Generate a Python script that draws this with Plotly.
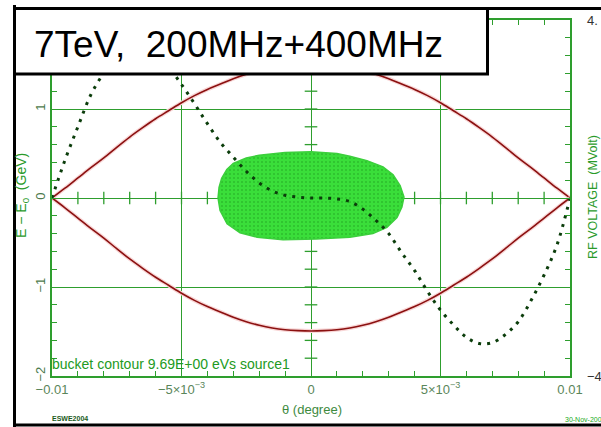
import plotly.graph_objects as go
import numpy as np

# ---------------- data ----------------
# bucket contour (separatrix), theta in degrees, dE in GeV
sep_theta = [-0.0100, -0.0095, -0.0090, -0.0085, -0.0080, -0.0075, -0.0070, -0.0065,
             -0.0060, -0.0055, -0.0050, -0.0045, -0.0040, -0.0035, -0.0030, -0.0025,
             -0.0020, -0.0015, -0.0010, -0.0005, 0.0000, 0.0005, 0.0010, 0.0015,
             0.0020, 0.0025, 0.0030, 0.0035, 0.0040, 0.0045, 0.0050, 0.0055,
             0.0060, 0.0065, 0.0070, 0.0075, 0.0080, 0.0085, 0.0090, 0.0095, 0.0100]
sep_lower = [0.0, -0.11, -0.225, -0.34, -0.45, -0.57, -0.685, -0.79,
             -0.89, -0.98, -1.07, -1.15, -1.22, -1.28, -1.34, -1.39,
             -1.43, -1.46, -1.48, -1.49, -1.494, -1.49, -1.48, -1.46,
             -1.43, -1.39, -1.34, -1.28, -1.22, -1.15, -1.07, -0.98,
             -0.89, -0.79, -0.685, -0.57, -0.45, -0.34, -0.225, -0.11, 0.0]
sep_upper = [0.0, 0.11, 0.225, 0.34, 0.45, 0.57, 0.685, 0.79,
             0.89, 0.98, 1.07, 1.15, 1.22, 1.28, 1.34, 1.39,
             1.43, 1.46, 1.48, 1.49, 1.494, 1.49, 1.48, 1.46,
             1.43, 1.39, 1.34, 1.28, 1.22, 1.15, 1.07, 0.98,
             0.89, 0.79, 0.685, 0.57, 0.45, 0.34, 0.225, 0.11, 0.0]

# RF voltage (MVolt) vs theta
rf_theta = [-0.0100, -0.0095, -0.0090, -0.0085, -0.0080, -0.0075, -0.0070, -0.0065,
            -0.0060, -0.0055, -0.0050, -0.0045, -0.0040, -0.0035, -0.0030, -0.0025,
            -0.0020, -0.0015, -0.0010, -0.0005, 0.0000, 0.0005, 0.0010, 0.0015,
            0.0020, 0.0025, 0.0030, 0.0035, 0.0040, 0.0045, 0.0050, 0.0055,
            0.0060, 0.0065, 0.0070, 0.0075, 0.0080, 0.0085, 0.0090, 0.0095, 0.0100]
rf_volt = [0.0, 0.85, 1.60, 2.32, 2.80, 3.10, 3.26, 3.29,
           3.15, 2.93, 2.55, 2.12, 1.67, 1.25, 0.92, 0.60,
           0.34, 0.16, 0.06, 0.02, 0.0, 0.0, -0.02, -0.08,
           -0.25, -0.50, -0.80, -1.23, -1.63, -2.10, -2.52, -2.85,
           -3.13, -3.27, -3.25, -3.07, -2.78, -2.30, -1.73, -1.05, 0.0]

# outline of the particle cloud (theta, dE)
cloud_theta = [-0.00359, -0.00355, -0.00345, -0.00325, -0.00300, -0.00250, -0.00200,
               -0.00100, 0.00000, 0.00100, 0.00150, 0.00216, 0.00278, 0.00317,
               0.00344, 0.00359, 0.00351, 0.00332, 0.00293, 0.00239, 0.00150,
               0.00020, -0.00108, -0.00208, -0.00274, -0.00324, -0.00351, -0.00359]
cloud_E = [0.00, 0.12, 0.22, 0.32, 0.39, 0.45, 0.48,
           0.51, 0.52, 0.50, 0.47, 0.42, 0.35, 0.26,
           0.14, 0.01, -0.10, -0.22, -0.33, -0.40, -0.44,
           -0.46, -0.47, -0.44, -0.39, -0.29, -0.14, 0.00]

x_tickvals = [-0.01, -0.005, 0, 0.005, 0.01]
x_ticktext = ["\u22120.01", "\u22125\u00d710<sup>\u22123</sup>", "0",
              "5\u00d710<sup>\u22123</sup>", "0.01"]
y_tickvals = [-2, -1, 0, 1]
y_ticktext = ["\u22122", "\u22121", "0", "1"]
y2_tickvals = [-4, 4]
y2_ticktext = ["\u22124", "4."]

# ---------------- styling ----------------
W, H = 601, 427
L, R, T, B = 52, 31, 20, 51
PW, PH = W - L - R, H - T - B
G = "#2e9e2e"
FONT = "Liberation Sans, Arial, sans-serif"


def px(x):
    return (x - L) / PW


def py(y):
    return (H - B - y) / PH


fig = go.Figure()

# crossing ticks on the zero lines
tx = np.round(np.arange(-0.009, 0.0095, 0.001), 4)
ty = np.round(np.arange(-1.8, 1.81, 0.2), 2)
fig.add_trace(go.Scatter(x=tx, y=np.zeros_like(tx), mode="markers",
                         marker=dict(symbol="line-ns", size=9, line=dict(color=G, width=1.3)),
                         hoverinfo="skip"))
fig.add_trace(go.Scatter(x=np.zeros_like(ty), y=ty, mode="markers",
                         marker=dict(symbol="line-ew", size=9, line=dict(color=G, width=1.3)),
                         hoverinfo="skip"))

# particle cloud
fig.add_trace(go.Scatter(x=cloud_theta, y=cloud_E, mode="lines", fill="toself",
                         line=dict(color="#3ccf3c", width=1.5),
                         fillcolor="#3ade3a",
                         fillpattern=dict(shape=".", bgcolor="#3ade3a", fgcolor="#1fa01f",
                                          size=4, solidity=0.22),
                         hoverinfo="skip"))

# bucket contour with light halo
for ys in (sep_upper, sep_lower):
    fig.add_trace(go.Scatter(x=sep_theta, y=ys, mode="lines",
                             line=dict(color="#f8d6d6", width=4, shape="spline"),
                             hoverinfo="skip"))
    fig.add_trace(go.Scatter(x=sep_theta, y=ys, mode="lines",
                             line=dict(color="#8b1010", width=1.6, shape="spline"),
                             hoverinfo="skip"))

# RF voltage (dotted)
fig.add_trace(go.Scatter(x=rf_theta, y=rf_volt, yaxis="y2", mode="lines",
                         line=dict(color="#0b3d0b", width=3, dash="3px,6px", shape="spline"),
                         hoverinfo="skip"))

axis_common = dict(showline=True, linecolor=G, linewidth=2, mirror="ticks",
                   showgrid=True, gridcolor=G, gridwidth=1.3, zeroline=False,
                   ticks="inside", ticklen=5, tickcolor=G, tickwidth=1.2,
                   automargin=False)

fig.update_layout(
    width=W, height=H,
    margin=dict(l=L, r=R, t=T, b=B),
    paper_bgcolor="white", plot_bgcolor="white",
    showlegend=False,
    xaxis=dict(range=[-0.01, 0.01], tickmode="array", tickvals=x_tickvals,
               ticktext=x_ticktext,
               tickfont=dict(family=FONT, size=13, color="#5a865a"),
               minor=dict(dtick=0.001, tick0=0, ticks="inside", ticklen=5,
                          tickcolor=G, tickwidth=1.2, showgrid=False),
               **axis_common),
    yaxis=dict(range=[-2, 2], tickmode="array", tickvals=y_tickvals,
               ticktext=y_ticktext, tickangle=-90,
               tickfont=dict(family=FONT, size=13, color="#4d7a4d"),
               minor=dict(dtick=0.2, tick0=0, ticks="inside", ticklen=5,
                          tickcolor=G, tickwidth=1.2, showgrid=False),
               **axis_common),
    yaxis2=dict(range=[-4, 4], overlaying="y", side="right", tickmode="array",
                tickvals=y2_tickvals, ticktext=y2_ticktext, showgrid=False,
                zeroline=False, showline=False, ticks="",
                ticklabelstandoff=16, automargin=False,
                tickfont=dict(family=FONT, size=13, color="#333333")),
)

# frame and title box
frame = dict(type="line", xref="paper", yref="paper", layer="above",
             line=dict(color="black", width=3))
fig.add_shape(x0=px(14.5), x1=px(14.5), y0=py(5), y1=py(430), **frame)
fig.add_shape(x0=px(13), x1=px(610), y0=py(8.5), y1=py(8.5), **frame)
fig.add_shape(x0=px(13), x1=px(610), y0=py(425), y1=py(425), **frame)
fig.add_shape(type="rect", xref="paper", yref="paper", layer="above",
              x0=px(14.5), x1=px(487.5), y0=py(74), y1=py(8.5),
              fillcolor="white", line=dict(color="black", width=3))

ann = dict(xref="paper", yref="paper", showarrow=False)
fig.add_annotation(x=px(238.5), y=py(44), text="7TeV,  200MHz+400MHz",
                   font=dict(family=FONT, size=37, color="black"),
                   xanchor="center", yanchor="middle", **ann)
fig.add_annotation(x=px(22), y=py(196), text="E \u2212 E<sub>0</sub>  (GeV)",
                   textangle=-90, font=dict(family=FONT, size=14, color="#2a9a2a"),
                   xanchor="center", yanchor="middle", **ann)
fig.add_annotation(x=px(593), y=py(197), text="RF VOLTAGE  (MVolt)",
                   textangle=-90, font=dict(family=FONT, size=12.5, color="#2a9a2a"),
                   xanchor="center", yanchor="middle", **ann)
fig.add_annotation(x=px(312), y=py(409), text="\u03b8 (degree)",
                   font=dict(family=FONT, size=13, color="#3e8a3e"),
                   xanchor="center", yanchor="middle", **ann)
fig.add_annotation(x=px(50), y=py(364), text="bucket contour 9.69E+00 eVs source1",
                   font=dict(family=FONT, size=14, color="#229a22"),
                   xanchor="left", yanchor="middle", **ann)
fig.add_annotation(x=px(50), y=py(418), text="<b>ESWE2004</b>",
                   font=dict(family=FONT, size=7, color="#1a5a1a"),
                   xanchor="left", yanchor="middle", **ann)
fig.add_annotation(x=px(563), y=py(419), text="30-Nov-2004",
                   font=dict(family=FONT, size=7, color="#22aa22"),
                   xanchor="left", yanchor="middle", **ann)

fig.write_html("out.html")
